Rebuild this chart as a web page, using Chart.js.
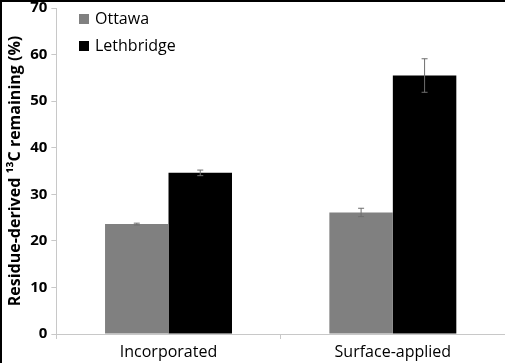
<!DOCTYPE html>
<html>
<head>
<meta charset="utf-8">
<script src="https://cdn.jsdelivr.net/npm/chart.js@4/dist/chart.umd.min.js"></script>
<style>
  body { margin: 0; background: #fff; }
  #wrap { width: 503px; height: 361px; border-top: 2px solid #000; border-left: 2px solid #000; overflow: hidden; }
  #grafico { display: block; margin-top: -7px; }
</style>
</head>
<body>
<div id="wrap"><canvas id="grafico" width="503" height="368"></canvas></div>
<script>
const categorias = ['Incorporated', 'Surface-applied']
const ottawa = [23.6, 26.1]
const ottawa_erro = [0.2, 0.9]
const lethbridge = [34.6, 55.5]
const lethbridge_erro = [0.6, 3.6]
const ticks_y = [0, 10, 20, 30, 40, 50, 60, 70]

const fonte = '"Open Sans", sans-serif'

// barras de erro desenhadas por cima das barras
const barrasErro = {
  id: 'barrasErro',
  afterDatasetsDraw(chart) {
    const ctx = chart.ctx
    const y = chart.scales.y
    chart.data.datasets.forEach((ds, i) => {
      const meta = chart.getDatasetMeta(i)
      meta.data.forEach((bar, j) => {
        const v = ds.data[j]
        const e = ds.erro[j]
        const topo = y.getPixelForValue(v + e)
        const base = y.getPixelForValue(v - e)
        ctx.save()
        ctx.strokeStyle = '#6e6e6e'
        ctx.lineWidth = 1
        ctx.beginPath()
        ctx.moveTo(bar.x, topo)
        ctx.lineTo(bar.x, base)
        ctx.moveTo(bar.x - 3, topo)
        ctx.lineTo(bar.x + 3, topo)
        ctx.moveTo(bar.x - 3, base)
        ctx.lineTo(bar.x + 3, base)
        ctx.stroke()
        ctx.restore()
      })
    })
  }
}

// legenda dentro da area do grafico
const legenda = {
  id: 'legenda',
  afterDraw(chart) {
    const ctx = chart.ctx
    ctx.save()
    ctx.font = '16px ' + fonte
    ctx.textBaseline = 'middle'
    chart.data.datasets.forEach((ds, i) => {
      const yy = 24 + i * 27
      ctx.fillStyle = ds.backgroundColor
      ctx.fillRect(77, yy - 5, 10, 10)
      ctx.fillStyle = '#000'
      ctx.fillText(ds.label, 93, yy)
    })
    ctx.restore()
  }
}

const ctx = document.getElementById('grafico')

const data = {
  labels: categorias,
  datasets: [{
    label: 'Ottawa',
    data: ottawa,
    erro: ottawa_erro,
    backgroundColor: '#808080'
  }, {
    label: 'Lethbridge',
    data: lethbridge,
    erro: lethbridge_erro,
    backgroundColor: '#000000'
  }]
}

const config = {
  type: 'bar',
  data,
  options: {
    responsive: false,
    animation: false,
    categoryPercentage: 0.566,
    barPercentage: 1,
    layout: { padding: { top: 0, right: 0, left: 4, bottom: 0 } },
    plugins: {
      legend: { display: false },
      tooltip: { enabled: false }
    },
    scales: {
      x: {
        afterFit: s => { s.height = 29 },
        grid: { drawOnChartArea: false, color: '#c8c8c8', tickLength: 5 },
        border: { color: '#c8c8c8' },
        ticks: { color: '#000', font: { family: fonte, size: 16 }, padding: 4 }
      },
      y: {
        min: 0,
        max: 70,
        afterBuildTicks: axis => { axis.ticks = ticks_y.map(v => ({ value: v })) },
        grid: { drawOnChartArea: false, color: '#c8c8c8', tickLength: 5 },
        border: { color: '#c8c8c8' },
        ticks: { color: '#000', font: { family: fonte, size: 15, weight: 'bold' }, padding: 4 },
        title: {
          display: true,
          text: 'Residue-derived ¹³C remaining (%)',
          color: '#000',
          font: { family: fonte, size: 16, weight: 'bold' },
          padding: { top: 0, bottom: 1 }
        }
      }
    }
  },
  plugins: [barrasErro, legenda]
}

const graph = new Chart(ctx, config)
</script>
</body>
</html>
